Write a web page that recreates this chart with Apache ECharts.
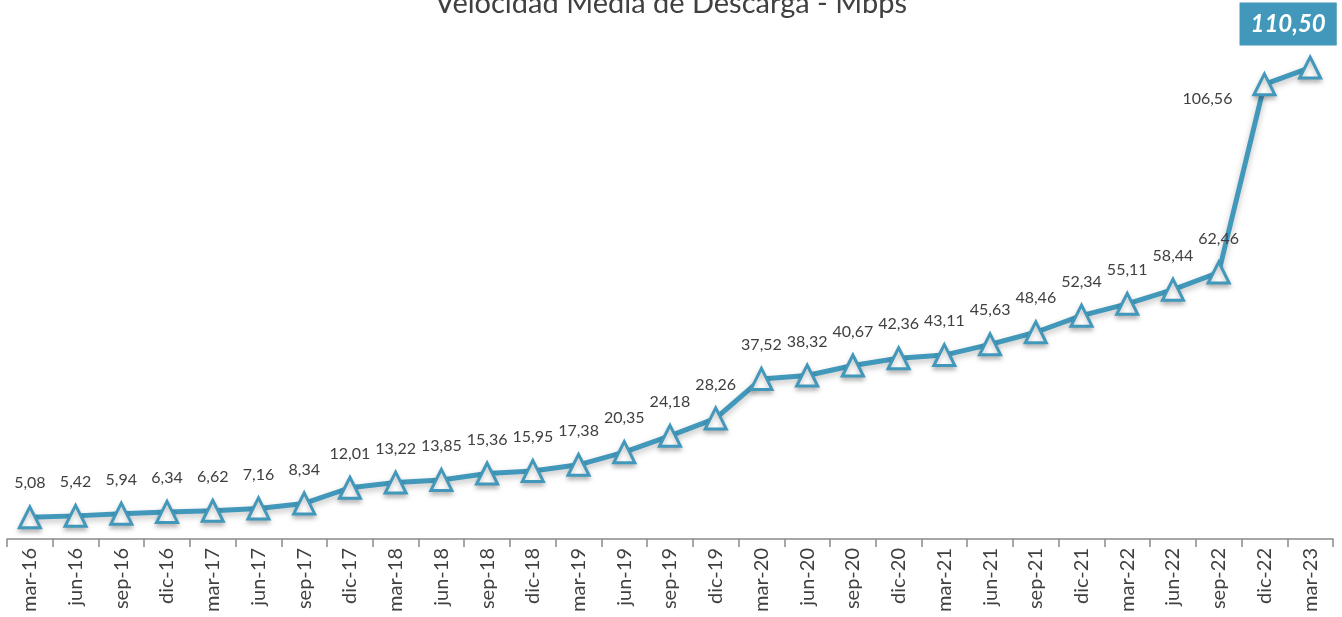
<!DOCTYPE html>
<html>
<head>
<meta charset="utf-8">
<script src="https://cdn.jsdelivr.net/npm/echarts@6/dist/echarts.min.js"></script>
<style>
  html, body { margin: 0; padding: 0; background: #fff; }
  #chart { width: 1342px; height: 617px; }
</style>
</head>
<body>
<div id="chart"></div>
<script>
// trimestres
var periodos = ["mar-16", "jun-16", "sep-16", "dic-16", "mar-17", "jun-17", "sep-17", "dic-17",
  "mar-18", "jun-18", "sep-18", "dic-18", "mar-19", "jun-19", "sep-19", "dic-19",
  "mar-20", "jun-20", "sep-20", "dic-20", "mar-21", "jun-21", "sep-21", "dic-21",
  "mar-22", "jun-22", "sep-22", "dic-22", "mar-23"];
// velocidad media (Mbps)
var velocidad = [5.08, 5.42, 5.94, 6.34, 6.62, 7.16, 8.34, 12.01,
  13.22, 13.85, 15.36, 15.95, 17.38, 20.35, 24.18, 28.26,
  37.52, 38.32, 40.67, 42.36, 43.11, 45.63, 48.46, 52.34,
  55.11, 58.44, 62.46, 106.56, 110.50];

var azul = "#4298BA";
var gris = "#404040";

function fmt(v) {
  return v.toFixed(2).replace(".", ",");
}

var datos = velocidad.map(function (v, i) {
  var item = { value: v };
  if (i === velocidad.length - 2) {
    item.label = { position: "left", distance: 20, offset: [0, 14] };
  }
  if (i === velocidad.length - 1) {
    item.label = {
      position: "top",
      offset: [-22, 4],
      backgroundColor: azul,
      color: "#fff",
      fontSize: 24,
      fontWeight: "bold",
      fontStyle: "italic",
      padding: [10, 11, 9, 11]
    };
  }
  return item;
});

var myChart = echarts.init(document.getElementById("chart"));
var option = {
  animation: false,
  title: {
    text: "Velocidad Media de Descarga - Mbps",
    left: "center",
    top: -16,
    textStyle: { fontFamily: "Lato", fontSize: 29, fontWeight: "normal", color: gris }
  },
  grid: { left: 7, right: 9, top: 27, bottom: 78 },
  xAxis: {
    type: "category",
    data: periodos,
    boundaryGap: true,
    axisLine: { lineStyle: { color: "#8a8a8a", width: 1.5 } },
    axisTick: { show: true, length: 8, lineStyle: { color: "#8a8a8a", width: 1.5 } },
    axisLabel: { rotate: 90, fontFamily: "Lato", fontSize: 20, color: gris, margin: 9 }
  },
  yAxis: {
    type: "value",
    min: 0,
    max: 120,
    show: false,
    splitLine: { show: false }
  },
  series: [
    {
      type: "line",
      data: datos,
      symbol: "triangle",
      symbolSize: 21,
      lineStyle: {
        color: azul,
        width: 5,
        shadowColor: "rgba(0,0,0,0.25)",
        shadowBlur: 6,
        shadowOffsetY: 3
      },
      itemStyle: {
        color: "#fff",
        borderColor: azul,
        borderWidth: 3,
        shadowColor: "rgba(0,0,0,0.25)",
        shadowBlur: 5,
        shadowOffsetY: 3
      },
      label: {
        show: true,
        position: "top",
        distance: 14,
        fontFamily: "Lato",
        fontSize: 16,
        color: gris,
        formatter: function (p) { return fmt(p.value); }
      }
    }
  ]
};
myChart.setOption(option);
</script>
</body>
</html>
